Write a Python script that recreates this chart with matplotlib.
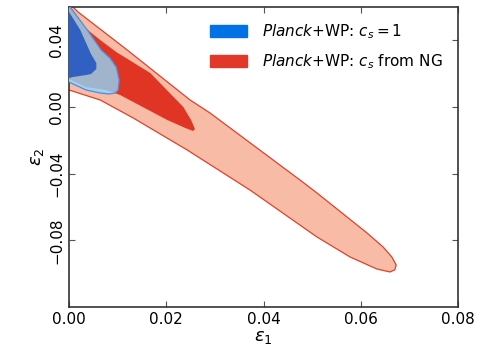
import numpy as np
import matplotlib
matplotlib.use("Agg")
import matplotlib.pyplot as plt
from matplotlib.patches import Patch

plt.rcParams['mathtext.fontset'] = 'dejavusans'

# contour outlines, (eps1, eps2) vertices
ng_outer_x = [-0.002, 0.0008, 0.00185, 0.0117, 0.0249, 0.029, 0.0475, 0.051, 0.0613,
              0.0646, 0.0664, 0.0673, 0.0670, 0.066, 0.0633, 0.0578, 0.051, 0.0372,
              0.0243, 0.0132, 0.0064, 0.0, -0.002]
ng_outer_y = [0.066, 0.060, 0.057, 0.0348, 0.0042, -0.0036, -0.0438, -0.0516, -0.0756,
              -0.084, -0.090, -0.0948, -0.0978, -0.099, -0.0972, -0.090, -0.078, -0.0498,
              -0.0258, -0.0066, 0.0042, 0.0102, 0.011]

ng_inner_x = [-0.0006, 0.0031, 0.0064, 0.0097, 0.0167, 0.0235, 0.0251, 0.0259, 0.0255,
              0.0239, 0.0202, 0.0132, 0.0105, 0.0076, 0.0035, 0.0004, -0.002]
ng_inner_y = [0.0642, 0.048, 0.0402, 0.033, 0.0204, 0.0, -0.0078, -0.0132, -0.0144,
              -0.0126, -0.0078, 0.003, 0.0072, 0.0102, 0.012, 0.0162, 0.017]

cs1_outer_x = [-0.002, 0.0002, 0.0039, 0.0066, 0.0084, 0.0097, 0.0103, 0.0101, 0.0095,
               0.0082, 0.0064, 0.0035, 0.0004, 0.0, -0.002]
cs1_outer_y = [0.062, 0.060, 0.0456, 0.0342, 0.0294, 0.024, 0.0162, 0.0102, 0.0084,
               0.0078, 0.0084, 0.0102, 0.0144, 0.015, 0.015]

cs1_inner_x = [-0.002, 0.0, 0.0023, 0.0045, 0.0056, 0.0056, 0.0045, 0.0035, 0.0008, 0.0, -0.002]
cs1_inner_y = [0.060, 0.057, 0.0462, 0.0318, 0.0264, 0.0228, 0.0198, 0.0192, 0.018, 0.0174, 0.017]

labels = [r'$\it{Planck}$+WP: $c_s = 1$', r'$\it{Planck}$+WP: $c_s$ from NG']

fig = plt.figure(figsize=(4.8, 3.52), dpi=100)
ax = fig.add_axes([0.144, 0.128, 0.81, 0.852])

ax.fill(ng_outer_x, ng_outer_y, facecolor='#f7bba6', edgecolor='#e0402c', lw=0.9, zorder=1)
ax.fill(ng_inner_x, ng_inner_y, facecolor='#e03525', edgecolor='none', zorder=2)
blue2 = ax.fill(cs1_outer_x, cs1_outer_y, facecolor='#a3d0f2', edgecolor='none', zorder=3)[0]
over = ax.fill(ng_inner_x, ng_inner_y, facecolor='#a0b4cb', edgecolor='none', zorder=4)[0]
over.set_clip_path(blue2)
ax.fill(cs1_inner_x, cs1_inner_y, facecolor='#3060c2', edgecolor='none', zorder=5)
ax.fill(cs1_outer_x, cs1_outer_y, facecolor='none', edgecolor='#4a8ee0', lw=0.9, zorder=6)

ax.set_xlim(0, 0.08)
ax.set_ylim(-0.12, 0.06)
ax.set_xticks([0.0, 0.02, 0.04, 0.06, 0.08])
ax.set_yticks([-0.08, -0.04, 0.0, 0.04])
ax.set_yticklabels(['\u22120.08', '\u22120.04', '0.00', '0.04'], rotation=90, va='center')
ax.tick_params(direction='in', top=True, right=True, labelsize=11, length=4, color='#555555')
for s in ax.spines.values():
    s.set_linewidth(1.2)
    s.set_color('#333333')
ax.set_xlabel(r'$\epsilon_1$', fontsize=13, labelpad=1)
ax.set_ylabel(r'$\epsilon_2$', fontsize=13, labelpad=2)

handles = [Patch(facecolor='#0072e5', edgecolor='#0072e5'),
           Patch(facecolor='#e2382a', edgecolor='#e2382a')]
ax.legend(handles, labels, loc='upper right', frameon=False, fontsize=11,
          handlelength=2.4, handleheight=0.85, handletextpad=1.0, labelspacing=0.75,
          borderaxespad=0.6)

fig.savefig('out.png', dpi=100)
